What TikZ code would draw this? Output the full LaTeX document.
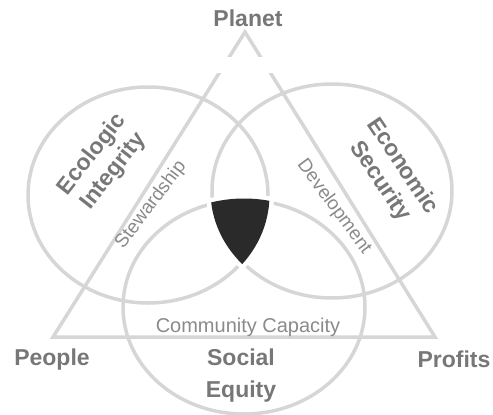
\documentclass[tikz,border=0pt]{standalone}
\usepackage{fontspec}
\setmainfont{Liberation Sans}
\definecolor{ringgray}{HTML}{D6D6D6}
\definecolor{labelgray}{HTML}{777777}
\definecolor{notegray}{HTML}{8A8A8A}
\definecolor{corefill}{HTML}{2A2A2A}
\begin{document}
\begin{tikzpicture}[x=1pt,y=-1pt,
  ring/.style={draw=ringgray, line width=3.5pt},
  head/.style={font=\fontsize{23}{27}\selectfont\bfseries, text=labelgray, align=center, inner sep=0pt},
  note/.style={font=\fontsize{19}{22}\selectfont, text=notegray, inner sep=0pt}]
\useasboundingbox (0,0) rectangle (493,415);

% corners of the triangle and centres of the three rings
\coordinate (top) at (245,32);
\coordinate (left) at (53,337);
\coordinate (right) at (435,337);
\coordinate (eco) at (148,195);
\coordinate (econ) at (332,191);
\coordinate (soc) at (244,307);

% triangle
\draw[ring, line join=miter] (top) -- (right) -- (left) -- cycle;
\fill[white] (200,57) rectangle (290,73);

% rings
\draw[ring] (eco) ellipse [x radius=120, y radius=108];
\draw[ring] (econ) ellipse [x radius=120, y radius=107];
\draw[ring] (soc) ellipse [x radius=121, y radius=107];

% white halo around the common core
\begin{scope}
  \clip (eco) ellipse [x radius=126, y radius=114];
  \clip (econ) ellipse [x radius=126, y radius=113];
  \fill[white] (soc) ellipse [x radius=127, y radius=113];
\end{scope}
% common core of the three rings
\begin{scope}
  \clip (eco) ellipse [x radius=121.5, y radius=109.5];
  \clip (econ) ellipse [x radius=121.5, y radius=108.5];
  \fill[corefill] (soc) ellipse [x radius=122.5, y radius=108.5];
\end{scope}

% corner labels
\node[head, anchor=base] (planet) at (248,26) {Planet};
\node[head, anchor=base] (people) at (52,365) {People};
\node[head, anchor=base] (profits) at (454,367) {Profits};

% ring labels
\node[head, rotate=52] (ecolabel) at (103,163) {Ecologic\\Integrity};
\node[head, rotate=-56] (econlabel) at (391,174) {Economic\\Security};
\node[head, anchor=base] (social) at (241,365) {Social};
\node[head, anchor=base] (equity) at (241,397) {Equity};

% overlap labels
\node[note, rotate=53] (steward) at (151,205) {Stewardship};
\node[note, rotate=-53.5] (develop) at (334,207) {Development};
\node[note, anchor=base, font=\fontsize{20}{24}\selectfont] (community) at (248,332) {Community Capacity};
\end{tikzpicture}
\end{document}
